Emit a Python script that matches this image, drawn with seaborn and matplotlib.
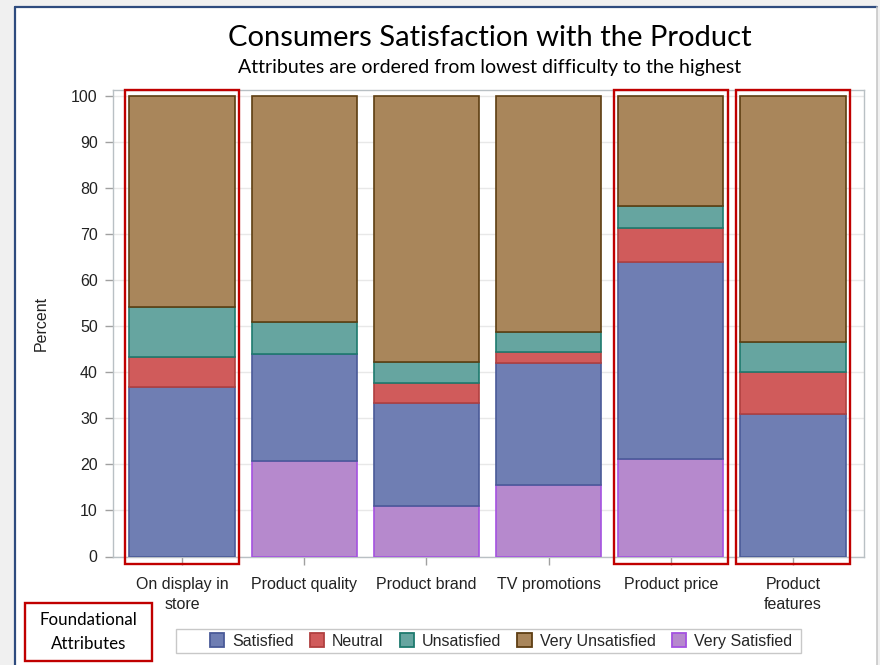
import matplotlib
matplotlib.use("Agg")
import matplotlib.pyplot as plt
from matplotlib.patches import Rectangle, Patch
from matplotlib.lines import Line2D
import numpy as np
import pandas as pd
import seaborn as sns

categories = ["On display in\nstore", "Product quality", "Product brand",
              "TV promotions", "Product price", "Product\nfeatures"]
very_satisfied = [0.0, 20.8, 11.0, 15.5, 21.1, 0.0]
satisfied = [36.8, 23.3, 22.3, 26.5, 43.0, 31.0]
neutral = [6.5, 0.0, 4.4, 2.4, 7.2, 9.0]
unsatisfied = [10.9, 6.9, 4.5, 4.5, 4.9, 6.6]
very_unsatisfied = [45.8, 49.0, 57.8, 51.1, 23.8, 53.4]

series_names = ["Very Satisfied", "Satisfied", "Neutral", "Unsatisfied", "Very Unsatisfied"]
series_values = [very_satisfied, satisfied, neutral, unsatisfied, very_unsatisfied]
legend_order = ["Satisfied", "Neutral", "Unsatisfied", "Very Unsatisfied", "Very Satisfied"]
highlighted = [0, 4, 5]

fills = {"Satisfied": "#6F7EB3", "Neutral": "#D05B5B", "Unsatisfied": "#66A5A0",
         "Very Unsatisfied": "#A9865B", "Very Satisfied": "#B689CD"}
edges = {"Satisfied": "#4A5A98", "Neutral": "#B04040", "Unsatisfied": "#1E7A6E",
         "Very Unsatisfied": "#5E3E12", "Very Satisfied": "#A452E0"}

sns.set_style("white")
plt.rcParams["font.family"] = ["Liberation Sans", "DejaVu Sans"]

fig = plt.figure(figsize=(8.8, 6.65), dpi=100)
fig.patch.set_facecolor("#F0F0F0")
W, H = 880, 665
# white panel with frame
fig.patches.append(Rectangle((15 / W, 0), (877 - 15) / W, (H - 7) / H, transform=fig.transFigure,
                             facecolor="white", edgecolor="none", zorder=-10))
fig.lines.append(Line2D([15 / W, 15 / W], [0, (H - 7) / H], transform=fig.transFigure,
                        color="#2E4B7E", lw=1.6, zorder=-5))
fig.lines.append(Line2D([15 / W, 877 / W], [(H - 7) / H, (H - 7) / H], transform=fig.transFigure,
                        color="#2E4B7E", lw=1.6, zorder=-5))
fig.lines.append(Line2D([877 / W, 877 / W], [0, (H - 7) / H], transform=fig.transFigure,
                        color="#C8C8C8", lw=1.2, zorder=-5))

ax = fig.add_axes([113 / W, (H - 556.5) / H, 751 / W, (556.5 - 90) / H])
ax.set_facecolor("white")

df = pd.DataFrame({"Attribute": categories})
bottom = np.zeros(len(categories))
for name, vals in zip(series_names, series_values):
    df["val"] = vals
    n_before = len(ax.patches)
    sns.barplot(data=df, x="Attribute", y="val", order=categories, color=fills[name],
                saturation=1, width=0.86, bottom=bottom, edgecolor=edges[name],
                linewidth=1.2, errorbar=None, ax=ax, zorder=3)
    for p in ax.patches[n_before:]:
        if p.get_height() <= 0:
            p.set_linewidth(0)
            p.set_visible(False)
    bottom = bottom + np.array(vals)

ax.set_xlim(-0.565, 5.581)
ax.set_ylim(0, 101.4)
ax.set_yticks(range(0, 101, 10))
ax.yaxis.grid(True, color="#E8E8E8", lw=1, zorder=0)
ax.set_axisbelow(True)
for s in ax.spines.values():
    s.set_color("#B9C0C4")
    s.set_linewidth(1)
    s.set_visible(True)
ax.tick_params(axis="both", which="major", length=6, width=1, color="#A0A0A0",
               labelsize=11.5, labelcolor="#222222", pad=5, direction="out")
ax.tick_params(axis="x", pad=9)
ax.tick_params(bottom=True, left=True)
for t in ax.get_xticklabels():
    t.set_linespacing(1.35)
ax.set_xlabel("")
ax.set_ylabel("Percent", fontsize=11.5, color="#222222", labelpad=16)

# highlight boxes
for i in highlighted:
    ax.add_patch(Rectangle((i - 0.466, -1.63), 0.932, 101.4 + 1.63, fill=False,
                           edgecolor="#C00000", lw=1.7, clip_on=False, zorder=5))

# titles
fig.text(490 / W, 1 - 38 / H, "Consumers Satisfaction with the Product", ha="center",
         va="center", fontsize=21, family="Lato", color="black")
fig.text(490 / W, 1 - 68 / H, "Attributes are ordered from lowest difficulty to the highest",
         ha="center", va="center", fontsize=14, family="Lato", color="black")

# foundational box
fig.patches.append(Rectangle((25 / W, 1 - 661 / H), 127 / W, 58 / H, transform=fig.transFigure,
                             fill=False, edgecolor="#C00000", lw=1.7))
fig.text(88.5 / W, 1 - 632 / H, "Foundational\nAttributes", ha="center", va="center",
         fontsize=12.2, family="Lato", linespacing=1.55, color="black")

# legend (frame drawn separately to match the asymmetric padding)
fig.patches.append(Rectangle((176 / W, 1 - 653 / H), 625 / W, 24 / H, transform=fig.transFigure,
                             facecolor="white", edgecolor="#C8C8C8", lw=1, zorder=1))
handles = [Patch(facecolor=fills[n], edgecolor=edges[n], lw=1.3, label=n) for n in legend_order]
leg = fig.legend(handles=handles, loc="center", bbox_to_anchor=(501 / W, 1 - 641 / H),
                 ncol=5, frameon=False, fontsize=11.5, handlelength=0.9, handleheight=0.9,
                 handletextpad=0.5, columnspacing=1.0, borderpad=0.3)
leg.set_zorder(2)

fig.savefig("out.png", dpi=100, facecolor=fig.get_facecolor())
